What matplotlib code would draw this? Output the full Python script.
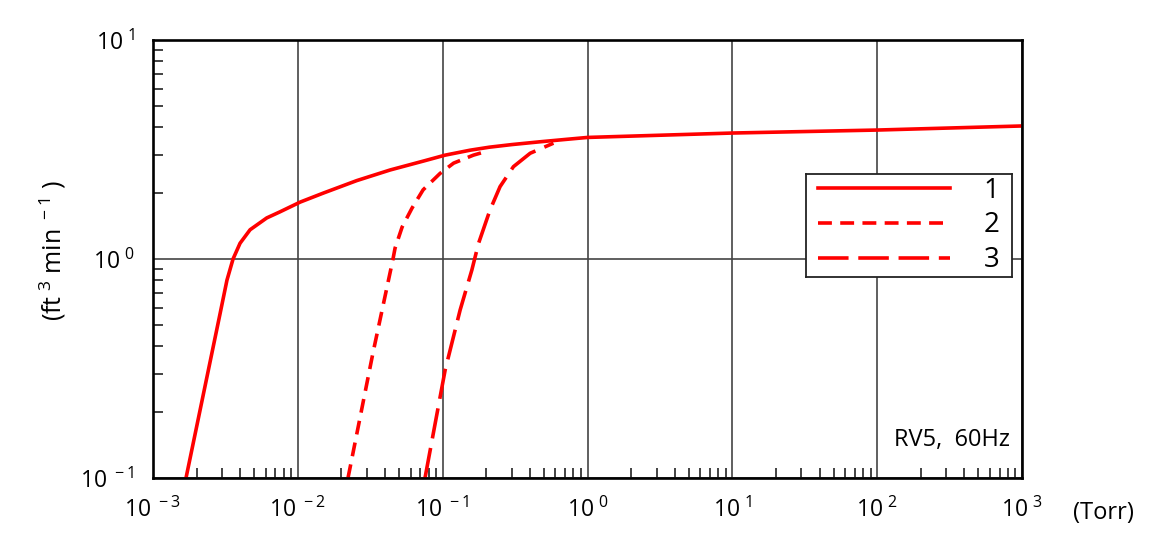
import math
import matplotlib
matplotlib.use("Agg")
import matplotlib.pyplot as plt
from matplotlib.ticker import FixedLocator, LogLocator, FuncFormatter, NullFormatter

plt.rcParams['font.family'] = ['Open Sans', 'DejaVu Sans']
plt.rcParams['mathtext.fontset'] = 'custom'
plt.rcParams['mathtext.rm'] = 'Open Sans'
plt.rcParams['mathtext.default'] = 'regular'
plt.rcParams['lines.scale_dashes'] = False

# pumping speed curves (pressure in Torr, speed in ft3/min)
p1 = [1.69e-3, 2.9e-3, 3.24e-3, 3.57e-3, 3.99e-3, 4.68e-3, 6.1e-3, 7.5e-3, 1.04e-2,
      1.5e-2, 2.55e-2, 4.34e-2, 7.36e-2, 0.104, 0.155, 0.21, 0.3, 0.471, 0.72, 1.0,
      10, 100, 1000]
s1 = [0.1, 0.56, 0.80, 1.0, 1.18, 1.36, 1.54, 1.64, 1.82,
      2.0, 2.28, 2.55, 2.80, 2.98, 3.14, 3.24, 3.33, 3.43, 3.52, 3.59,
      3.76, 3.88, 4.05]

p2 = [0.0222, 0.033, 0.0454, 0.0469, 0.0525, 0.0615, 0.0733, 0.096, 0.119, 0.163, 0.207]
s2 = [0.1, 0.372, 1.0, 1.12, 1.40, 1.71, 2.07, 2.46, 2.74, 2.98, 3.12]

p3 = [0.0755, 0.104, 0.132, 0.159, 0.177, 0.212, 0.249, 0.308, 0.402, 0.582]
s3 = [0.1, 0.311, 0.585, 0.89, 1.18, 1.67, 2.14, 2.64, 3.04, 3.38]

labels = ["1", "2", "3"]
decades_x = [1e-3, 1e-2, 1e-1, 1e0, 1e1, 1e2, 1e3]
decades_y = [1e-1, 1e0, 1e1]
red = "#ff0000"

fig = plt.figure(figsize=(11.71, 5.51), dpi=100)
ax = fig.add_axes([153/1171, 1 - 478/551, 869/1171, 438/551])

ax.plot(p1, s1, color=red, lw=2.6, label=labels[0])
ax.plot(p2, s2, color=red, lw=2.6, dashes=(10, 6), label=labels[1])
ax.plot(p3, s3, color=red, lw=2.6, dashes=(22, 7), label=labels[2])

ax.set_xscale('log')
ax.set_yscale('log')
ax.set_xlim(1e-3, 1e3)
ax.set_ylim(0.1, 10)

ax.xaxis.set_major_locator(FixedLocator(decades_x))
ax.yaxis.set_major_locator(FixedLocator(decades_y))
ax.xaxis.set_minor_locator(LogLocator(base=10, subs=range(2, 10), numticks=20))
ax.yaxis.set_minor_locator(LogLocator(base=10, subs=range(2, 10), numticks=20))
fmt = FuncFormatter(lambda v, pos: r'$10^{\ %d}$' % round(math.log10(v)))
ax.xaxis.set_major_formatter(fmt)
ax.yaxis.set_major_formatter(fmt)
ax.xaxis.set_minor_formatter(NullFormatter())
ax.yaxis.set_minor_formatter(NullFormatter())

ax.tick_params(which='major', length=0, labelsize=16.5, colors='black')
ax.tick_params(axis='x', which='major', pad=14)
ax.tick_params(axis='y', which='major', pad=13)
ax.tick_params(which='minor', direction='in', length=7, width=1.2, color='#222222')

ax.grid(True, which='major', color='#444444', lw=1.2)
for s in ax.spines.values():
    s.set_linewidth(1.9)
    s.set_color('black')

# legend sits in its own framed box
lax = fig.add_axes([806/1171, 1 - 277/551, 206/1171, 103/551])
lax.set_xticks([])
lax.set_yticks([])
for s in lax.spines.values():
    s.set_linewidth(1.3)
    s.set_color('#222222')
handles, labs = ax.get_legend_handles_labels()
lax.legend(handles, labs, loc='center', frameon=False, fontsize=20,
           handlelength=4.75, handletextpad=1.2, labelspacing=0.25, borderpad=0)

ax.text(0.986, 0.087, "RV5,  60Hz", transform=ax.transAxes, ha='right', va='center', fontsize=17)
fig.text(1073/1171, 1 - 513/551, "(Torr)", ha='left', va='center', fontsize=17)
fig.text(53/1171, 1 - 250/551, r'(ft$^{\ 3}$ min$^{\ -1}$ )', rotation=90,
         ha='center', va='center', fontsize=18)

fig.savefig("out.png", dpi=100)
